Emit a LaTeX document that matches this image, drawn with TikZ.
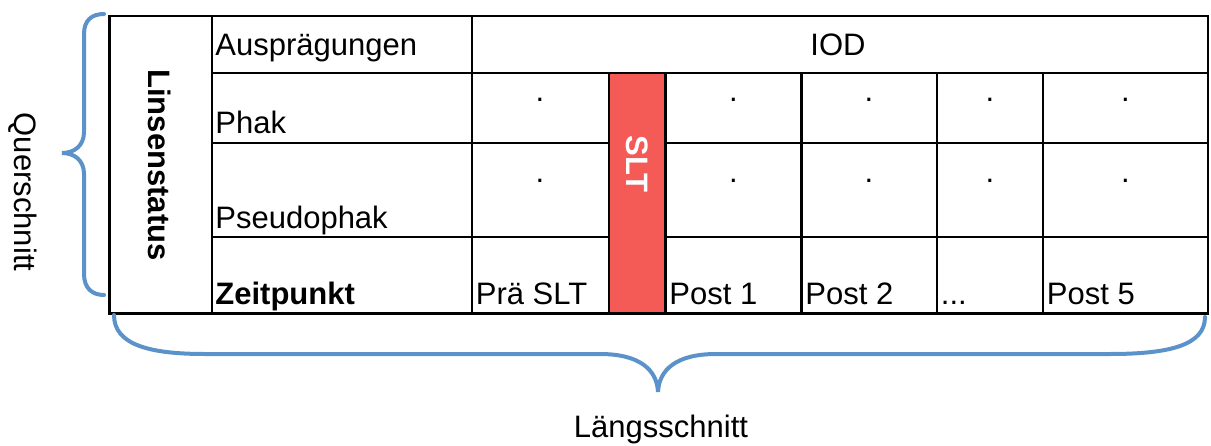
\documentclass[tikz,border=0pt]{standalone}
\usepackage{fontspec}
\setmainfont{Liberation Sans}
\usetikzlibrary{positioning}
\definecolor{braceblue}{RGB}{91,146,201}
\definecolor{sltred}{RGB}{244,91,87}
\newcommand{\cellfont}{\fontsize{15.5}{18}\selectfont}
\tikzset{
  tabline/.style={line width=1.4pt, color=black},
  celltext/.style={font=\cellfont, inner sep=0pt, anchor=base west},
  celldot/.style={font=\cellfont, inner sep=0pt, anchor=base},
  bracepath/.style={draw=braceblue, line width=2pt, line cap=round},
  sidelabel/.style={font=\cellfont, inner sep=0pt, rotate=-90}
}

\begin{document}
\begin{tikzpicture}[x=0.5pt, y=-0.5pt]
  \useasboundingbox (0,0) rectangle (1211,445);

  % SLT column
  \fill[sltred] (609,73) rectangle (665.5,313.5);

  % Table grid
  \draw[tabline] (109.5,16) rectangle (1208,313.5);
  \draw[tabline] (212,16) -- (212,313.5);
  \draw[tabline] (472,16) -- (472,313.5);
  \draw[tabline] (212,73) -- (1208,73);
  \draw[tabline] (212,143) -- (609,143) (665.5,143) -- (1208,143);
  \draw[tabline] (212,237) -- (609,237) (665.5,237) -- (1208,237);
  \foreach \x in {609,665.5,801.5,937,1043}
    \draw[tabline] (\x,73) -- (\x,313.5);

  % Header and row labels
  \node[sidelabel, font=\cellfont\bfseries] (linsen) at (160,165) {Linsenstatus};
  \node[celltext] (auspr) at (215,55) {Ausprägungen};
  \node[celldot] (iod) at (838,55) {IOD};
  \node[celltext] (phak) at (215,133) {Phak};
  \node[celltext] (pseudo) at (215,228) {Pseudophak};
  \node[celltext, font=\cellfont\bfseries] (zeit) at (215,304) {Zeitpunkt};

  % Time points
  \node[celltext] (prae) at (475.5,304) {Prä SLT};
  \node[celltext] (post1) at (669,304) {Post 1};
  \node[celltext] (post2) at (805,304) {Post 2};
  \node[celltext] (etc) at (940.5,304) {...};
  \node[celltext] (post5) at (1046.5,304) {Post 5};
  \node[sidelabel, font=\cellfont\bfseries, text=white] (slt) at (637.5,164) {SLT};

  % Cell dots
  \foreach \cx [count=\i] in {540,733.5,869,990,1125.5} {
    \node[celldot] (dphak\i) at (\cx,101) {.};
    \node[celldot] (dpseudo\i) at (\cx,182) {.};
  }

  % Braces
  \draw[bracepath] (104,14) .. controls (92,14) and (84,20) .. (84,34)
    -- (84,132) .. controls (84,146) and (74,153) .. (62,153)
    .. controls (74,153) and (84,160) .. (84,174)
    -- (84,274) .. controls (84,288) and (92,295) .. (104,295);
  \draw[bracepath] (114,315) .. controls (114,345) and (150,354) .. (205,354)
    -- (600,354) .. controls (640,354) and (657,370) .. (658,392)
    .. controls (659,370) and (676,354) .. (716,354)
    -- (1110,354) .. controls (1170,354) and (1205,345) .. (1205,317);

  \node[sidelabel] (quer) at (23,192) {Querschnitt};
  \node[celldot] (laengs) at (661,437) {Längsschnitt};
\end{tikzpicture}
\end{document}
